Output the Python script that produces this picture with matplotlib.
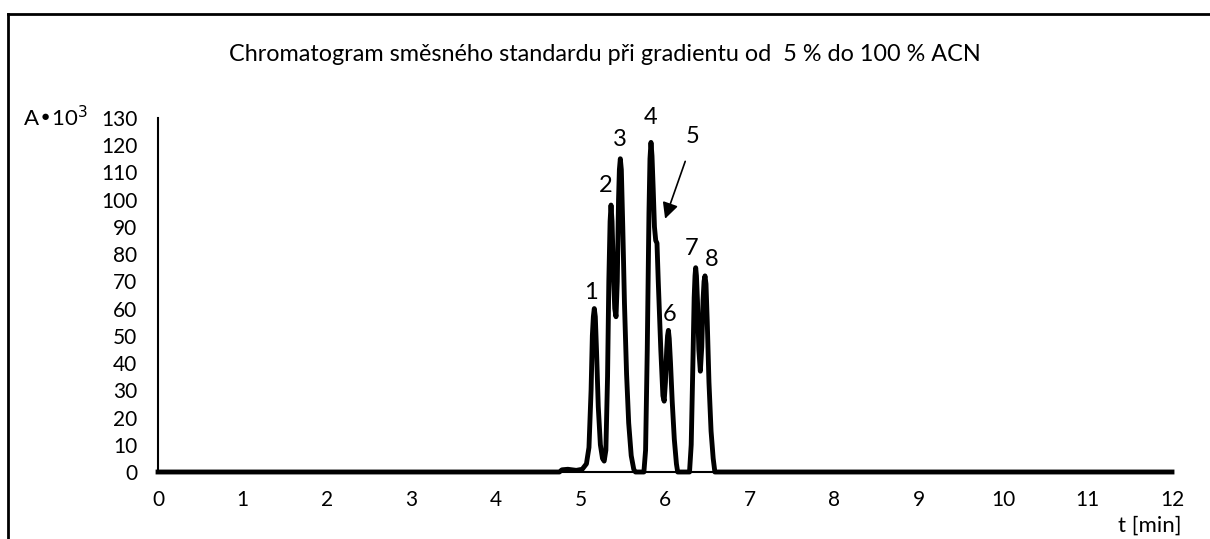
import matplotlib
matplotlib.use('Agg')
import matplotlib.pyplot as plt
from matplotlib.lines import Line2D

plt.rcParams['font.family'] = ['Lato', 'DejaVu Sans']

# chromatogram: time [min] and absorbance A*10^3
t_min = [0, 4.75, 4.78, 4.85, 4.95, 5.02, 5.07, 5.10, 5.125, 5.14, 5.152, 5.163, 5.175,
         5.19, 5.21, 5.235, 5.26, 5.28, 5.30, 5.32, 5.335, 5.35, 5.361, 5.373, 5.39,
         5.405, 5.42, 5.435, 5.45, 5.46, 5.471, 5.483, 5.50, 5.52, 5.545, 5.57, 5.60,
         5.63, 5.65, 5.75, 5.77, 5.79, 5.81, 5.822, 5.834, 5.846, 5.86, 5.875, 5.89,
         5.905, 5.92, 5.95, 5.975, 5.99, 6.005, 6.02, 6.03, 6.04, 6.05, 6.065, 6.085,
         6.11, 6.135, 6.15, 6.29, 6.31, 6.33, 6.345, 6.355, 6.363, 6.372, 6.385, 6.40,
         6.418, 6.435, 6.45, 6.462, 6.473, 6.485, 6.50, 6.52, 6.545, 6.57, 6.59, 12]
absorb = [0, 0, 0.8, 1.0, 0.6, 1.0, 3, 9, 30, 50, 57, 60, 57,
          44, 24, 10, 5, 4, 8, 35, 70, 92, 98, 92, 72,
          60, 57, 70, 100, 111, 115, 111, 90, 62, 36, 18, 6,
          1, 0, 0, 8, 45, 95, 115, 121, 116, 104, 90, 85,
          84, 70, 45, 28, 26, 33, 45, 50, 52, 49, 40, 26,
          12, 3, 0, 0, 10, 40, 64, 72, 75, 72, 62, 45,
          37, 46, 63, 70, 72, 69, 55, 33, 15, 5, 0, 0]

# peak numbers and where they sit
peak_names = ['1', '2', '3', '4', '5', '6', '7', '8']
peak_x = [5.12, 5.30, 5.46, 5.83, 6.33, 6.06, 6.31, 6.55]
peak_y = [66, 105, 122, 130, 123, 58, 82, 78]

fig = plt.figure(figsize=(12.1, 5.39), dpi=100)
ax = fig.add_axes([0.1306, 0.1243, 0.838, 0.657])

ax.plot(t_min, absorb, color='black', lw=3.5, solid_joinstyle='round', clip_on=False)

for name, x, y in zip(peak_names, peak_x, peak_y):
    ax.text(x, y, name, fontsize=17, ha='center', va='center')

# arrow pointing at the shoulder (peak 5)
ax.annotate('', xy=(5.99, 92), xytext=(6.25, 115),
            arrowprops=dict(arrowstyle='-|>', color='black', lw=1.2, mutation_scale=24))

ax.set_xlim(0, 12)
ax.set_ylim(0, 130)
ax.set_xticks(range(0, 13))
ax.set_yticks(range(0, 131, 10))
ax.tick_params(length=0, labelsize=15)
ax.tick_params(axis='y', pad=15)
ax.tick_params(axis='x', pad=13)
for s in ['top', 'right']:
    ax.spines[s].set_visible(False)
ax.spines['left'].set_linewidth(1.5)
ax.spines['bottom'].set_linewidth(1.5)

fig.text(0.5, 0.898, 'Chromatogram směsného standardu při gradientu od  5 % do 100 % ACN',
         fontsize=16.8, ha='center', va='center')
fig.text(0.019, 0.782, 'A\u202210$^3$', fontsize=16, ha='left', va='center')
fig.text(0.924, 0.024, 't [min]', fontsize=16, ha='left', va='center')

# frame lines at the top and left edge of the picture
fig.add_artist(Line2D([0.007, 1.0], [0.974, 0.974], color='black', lw=2, transform=fig.transFigure))
fig.add_artist(Line2D([0.007, 0.007], [0.0, 0.974], color='black', lw=2, transform=fig.transFigure))

fig.savefig('out.png', dpi=100)
